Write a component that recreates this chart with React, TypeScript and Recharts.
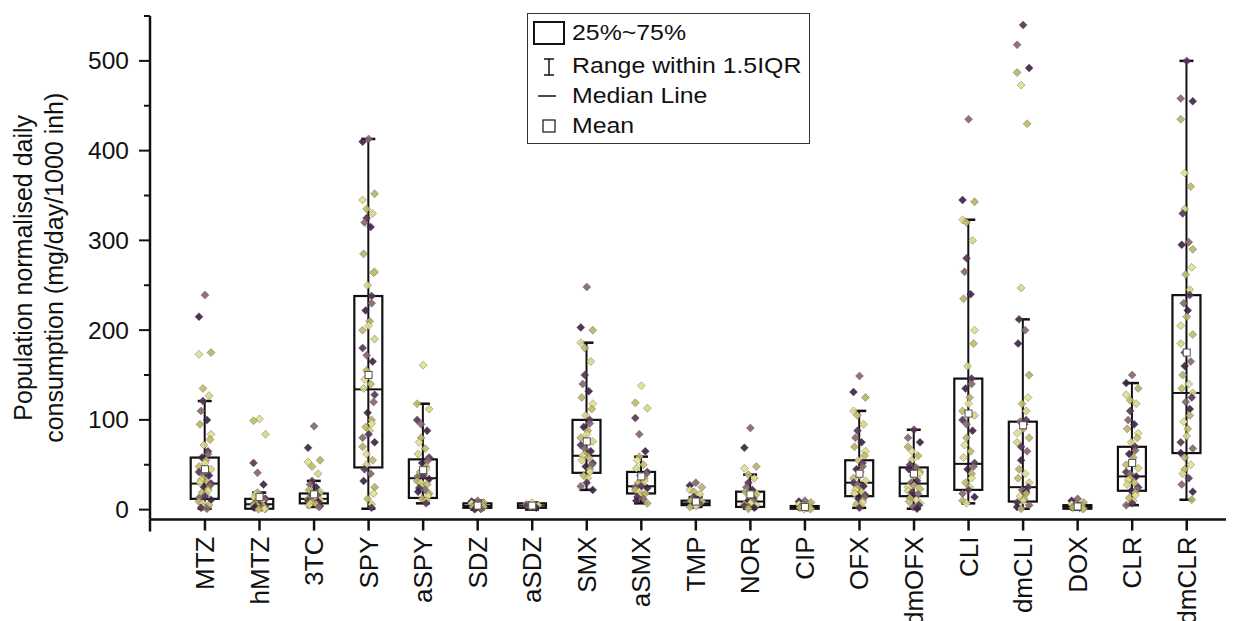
import React from 'react';
import { ComposedChart, Bar, Scatter, XAxis, YAxis, Legend } from 'recharts';

const categories = ['MTZ', 'hMTZ', '3TC', 'SPY', 'aSPY', 'SDZ', 'aSDZ', 'SMX', 'aSMX', 'TMP', 'NOR', 'CIP', 'OFX', 'dmOFX', 'CLI', 'dmCLI', 'DOX', 'CLR', 'dmCLR'];
const q1Values = [12, 1, 7, 47, 13, 2, 2, 41, 18, 5, 3, 1, 15, 15, 22, 9, 1, 21, 63];
const medianValues = [29, 6, 12, 134, 35, 4, 4.5, 60, 26, 7, 9, 2.5, 30, 29, 51, 25, 3, 37, 130];
const q3Values = [58, 12, 18, 238, 56, 7, 7, 100, 42, 10, 20, 4, 55, 47, 146, 98, 5, 70, 239];
const whiskerLow = [1, 0.5, 3, 1, 7, 0, 0, 22, 7, 3, 1, 0, 2, 1, 7, 1, 0, 5, 11];
const whiskerHigh = [121, 19, 32, 413, 118, 10, 8, 186, 59, 14, 39, 6, 110, 89, 323, 212, 7, 141, 500];
const meanValues = [45, 14, 17, 150, 44, 4.5, 4.5, 76, 37, 9, 17, 3, 40, 40, 107, 94, 3.5, 52, 175];

const yMajorTicks = [0, 100, 200, 300, 400, 500];
const yMinorTicks = [50, 150, 250, 350, 450, 550];
const Y_MIN = -11;
const Y_MAX = 550;

const ptsMTZ = [239, 215, 175, 173, 135, 127, 121, 110, 100, 95, 84, 78, 72, 65, 62, 58, 55, 52, 48, 45, 42, 40, 38, 35, 33, 31, 30, 29, 27, 25, 23, 21, 19, 17, 15, 13, 11, 9, 7, 5, 3, 2, 1];
const ptsHMTZ = [101, 99, 84, 52, 41, 28, 19, 17, 15, 13, 12, 11, 10, 9, 8, 8, 7, 6, 6, 5, 5, 4, 4, 3, 3, 2, 2, 1, 1, 0.5];
const pts3TC = [93, 69, 55, 53, 48, 40, 32, 28, 25, 22, 20, 18, 17, 16, 15, 14, 13, 12, 12, 11, 10, 9, 9, 8, 7, 6, 5, 4, 3];
const ptsSPY = [413, 410, 352, 345, 335, 330, 325, 320, 315, 285, 265, 264, 250, 238, 230, 222, 210, 205, 200, 190, 180, 172, 165, 155, 145, 140, 135, 128, 120, 108, 100, 96, 92, 88, 84, 80, 75, 70, 62, 55, 50, 45, 40, 32, 25, 18, 12, 6, 2];
const ptsASPY = [161, 118, 112, 100, 95, 88, 80, 75, 68, 62, 58, 55, 52, 48, 45, 42, 40, 38, 36, 34, 32, 30, 28, 26, 24, 22, 20, 18, 15, 12, 10, 7];
const ptsSDZ = [10, 9, 8, 7, 6, 5, 5, 4, 4, 3, 3, 2, 2, 1, 1, 0.5];
const ptsASDZ = [8, 6, 5, 4, 3, 2];
const ptsSMX = [248, 203, 200, 186, 180, 165, 150, 140, 132, 125, 118, 112, 105, 100, 96, 92, 88, 84, 80, 76, 72, 68, 65, 62, 60, 58, 55, 52, 50, 48, 45, 42, 38, 35, 30, 26, 22];
const ptsASMX = [138, 119, 113, 102, 84, 65, 59, 55, 50, 46, 42, 40, 38, 35, 32, 30, 28, 26, 25, 24, 22, 20, 18, 16, 14, 12, 10, 7];
const ptsTMP = [30, 27, 25, 22, 20, 17, 14, 12, 11, 10, 9, 8, 7, 7, 6, 5, 5, 4, 3];
const ptsNOR = [91, 69, 48, 46, 39, 35, 30, 25, 22, 20, 18, 16, 14, 12, 10, 9, 8, 7, 6, 5, 4, 3, 2, 1];
const ptsCIP = [10, 9, 8, 6, 5, 4, 3, 3, 2, 2, 1, 1, 0.5];
const ptsOFX = [149, 131, 125, 110, 105, 95, 88, 80, 75, 70, 65, 60, 55, 52, 48, 45, 42, 38, 35, 32, 30, 28, 26, 24, 22, 20, 18, 16, 14, 12, 10, 8, 6, 4, 2];
const ptsDMOFX = [89, 80, 75, 70, 65, 60, 55, 50, 47, 45, 42, 40, 38, 35, 32, 30, 29, 27, 25, 23, 21, 19, 17, 15, 13, 11, 9, 7, 5, 3, 1];
const ptsCLI = [435, 345, 343, 323, 320, 300, 280, 265, 240, 235, 200, 185, 160, 146, 140, 135, 125, 118, 110, 105, 100, 95, 88, 80, 72, 65, 58, 52, 48, 45, 40, 35, 30, 25, 22, 18, 14, 10, 7];
const ptsDMCLI = [540, 518, 492, 487, 473, 430, 247, 212, 200, 185, 150, 125, 118, 110, 100, 98, 95, 90, 85, 80, 75, 70, 65, 55, 45, 40, 35, 30, 25, 22, 20, 18, 15, 12, 10, 8, 5, 3, 1];
const ptsDOX = [12, 10, 8, 6, 5, 4, 3, 3, 2, 2, 1, 1];
const ptsCLR = [150, 141, 135, 128, 122, 118, 110, 100, 95, 90, 85, 80, 75, 70, 66, 62, 58, 54, 50, 46, 42, 40, 37, 35, 33, 30, 28, 25, 23, 21, 19, 16, 13, 10, 7, 5];
const ptsDMCLR = [500, 458, 455, 435, 375, 360, 335, 330, 298, 295, 290, 270, 262, 245, 239, 230, 222, 215, 205, 195, 185, 175, 165, 160, 150, 140, 135, 130, 125, 120, 112, 105, 98, 90, 82, 75, 68, 63, 58, 50, 45, 40, 35, 28, 20, 11];

const pointSets = [ptsMTZ, ptsHMTZ, pts3TC, ptsSPY, ptsASPY, ptsSDZ, ptsASDZ, ptsSMX, ptsASMX, ptsTMP, ptsNOR, ptsCIP, ptsOFX, ptsDMOFX, ptsCLI, ptsDMCLI, ptsDOX, ptsCLR, ptsDMCLR];

const boxData = categories.map((name, k) => ({
  name,
  q1: q1Values[k],
  median: medianValues[k],
  q3: q3Values[k],
  wLow: whiskerLow[k],
  wHigh: whiskerHigh[k],
  mean: meanValues[k],
}));

const pointData = categories.flatMap((name, k) => pointSets[k].map((v, i) => ({ name, v, i })));

const FONT = "'Liberation Sans', Arial, Helvetica, sans-serif";
const INK = '#111111';
const PALETTE = ['#d9d882', '#3e2446', '#c0be66', '#87686d', '#e2e18e', '#583858', '#b9b46a'];
const JITTER = [0, -4, 3, -2, 5, -6, 2, -3, 4, -1, 6, -5, 1, -2, 3, -6, 6];

const BoxShape = (props: any) => {
  const { x, y, width, height, payload } = props;
  if (!payload || x == null || y == null) return null;
  const top = Math.min(y, y + height);
  const h = Math.abs(height);
  const lo = payload.wLow;
  const hi = payload.wHigh;
  const toPx = (val: number) => top + ((hi - val) / (hi - lo)) * h;
  const cx = x + width / 2;
  const capHalf = 7;
  const yQ3 = toPx(payload.q3);
  const yQ1 = toPx(payload.q1);
  const yMed = toPx(payload.median);
  return (
    <g>
      <line x1={cx} x2={cx} y1={top} y2={top + h} stroke={INK} strokeWidth={2} />
      <line x1={cx - capHalf} x2={cx + capHalf} y1={top} y2={top} stroke={INK} strokeWidth={2.5} />
      <line x1={cx - capHalf} x2={cx + capHalf} y1={top + h} y2={top + h} stroke={INK} strokeWidth={2.5} />
      <rect x={x} y={yQ3} width={width} height={Math.max(yQ1 - yQ3, 0)} fill="none" stroke={INK} strokeWidth={2.2} />
      <line x1={x} x2={x + width} y1={yMed} y2={yMed} stroke={INK} strokeWidth={2} />
    </g>
  );
};

const PointShape = (props: any) => {
  const { cx, cy, payload } = props;
  if (cx == null || cy == null || !payload) return null;
  const i = payload.i;
  const dx = JITTER[(i * 5) % JITTER.length];
  const color = PALETTE[(i * 5 + payload.name.length) % PALETTE.length];
  const r = 4;
  const px = cx + dx;
  return (
    <path
      d={`M${px},${cy - r}L${px + r},${cy}L${px},${cy + r}L${px - r},${cy}Z`}
      fill={color}
      fillOpacity={0.92}
      stroke="rgba(60,45,55,0.45)"
      strokeWidth={0.7}
    />
  );
};

const MeanShape = (props: any) => {
  const { cx, cy } = props;
  if (cx == null || cy == null) return null;
  const s = 7;
  return <rect x={cx - s / 2} y={cy - s / 2} width={s} height={s} fill="#fff" stroke="#555" strokeWidth={1} />;
};

const YTick = (props: any) => {
  const { x, y, payload } = props;
  const v = payload.value;
  if (v === Y_MIN) {
    return <line x1={x} x2={x} y1={y} y2={y + 12} stroke={INK} strokeWidth={2.5} />;
  }
  const major = yMajorTicks.includes(v);
  return (
    <g>
      <line x1={x - (major ? 11 : 6)} x2={x} y1={y} y2={y} stroke={INK} strokeWidth={2} />
      {major && (
        <text x={x - 21} y={y} textAnchor="end" dominantBaseline="central" fontSize={24.5} fontFamily={FONT} fill={INK}>
          {v}
        </text>
      )}
    </g>
  );
};

const XTick = (props: any) => {
  const { x, y, payload } = props;
  return (
    <text
      x={x}
      y={y}
      transform={`rotate(-90, ${x}, ${y})`}
      textAnchor="end"
      dominantBaseline="central"
      fontSize={26}
      fontFamily={FONT}
      fill={INK}
    >
      {payload.value}
    </text>
  );
};

const YTitle = (props: any) => {
  const vb = props.viewBox || { x: 0, y: 0, width: 0, height: 0 };
  const cy = vb.y + vb.height / 2;
  const x1 = vb.x + 24;
  const x2 = vb.x + 55;
  return (
    <g>
      <text x={x1} y={cy} transform={`rotate(-90, ${x1}, ${cy})`} textAnchor="middle" fontSize={25} fontFamily={FONT} fill={INK}>
        Population normalised daily
      </text>
      <text x={x2} y={cy} transform={`rotate(-90, ${x2}, ${cy})`} textAnchor="middle" fontSize={25} fontFamily={FONT} fill={INK}>
        consumption (mg/day/1000 inh)
      </text>
    </g>
  );
};

const legendItems = ['25%~75%', 'Range within 1.5IQR', 'Median Line', 'Mean'];

const LegendContent = () => {
  const rowTops = [19, 52, 82, 112];
  return (
    <div
      style={{
        position: 'relative',
        width: 283,
        height: 131,
        border: '1.5px solid #333',
        boxSizing: 'border-box',
        background: '#fff',
        fontFamily: FONT,
        color: INK,
      }}
    >
      <svg width={283} height={131} style={{ position: 'absolute', left: 0, top: 0 }}>
        <rect x={6} y={8} width={30} height={22} fill="none" stroke={INK} strokeWidth={2} />
        <line x1={21} x2={21} y1={45} y2={61} stroke={INK} strokeWidth={1.5} />
        <line x1={16} x2={26} y1={45} y2={45} stroke={INK} strokeWidth={1.5} />
        <line x1={16} x2={26} y1={61} y2={61} stroke={INK} strokeWidth={1.5} />
        <line x1={10} x2={28} y1={82} y2={82} stroke={INK} strokeWidth={1.5} />
        <rect x={15} y={106} width={12} height={12} fill="none" stroke={INK} strokeWidth={1.2} />
      </svg>
      {legendItems.map((t, k) => (
        <div
          key={t}
          style={{
            position: 'absolute',
            left: 44,
            top: rowTops[k] - 14,
            height: 28,
            lineHeight: '28px',
            fontSize: 22,
            whiteSpace: 'nowrap',
            transform: 'scaleX(1.13)',
            transformOrigin: 'left center',
          }}
        >
          {t}
        </div>
      ))}
    </div>
  );
};

export default function App() {
  return (
    <div style={{ width: 1226, height: 613, fontFamily: FONT, position: 'relative' }}>
      <ComposedChart width={1226} height={613} data={boxData} margin={{ top: 8, right: 0, bottom: 0, left: 0 }}>
        <XAxis
          dataKey="name"
          type="category"
          allowDuplicatedCategory={false}
          height={101.5}
          padding={{ left: 27.7, right: 20 }}
          interval={0}
          axisLine={{ stroke: INK, strokeWidth: 2.5 }}
          tickLine={{ stroke: INK, strokeWidth: 2.5 }}
          tickSize={11}
          tickMargin={6}
          tick={<XTick />}
        />
        <YAxis
          type="number"
          domain={[Y_MIN, Y_MAX]}
          ticks={[Y_MIN, 0, ...yMinorTicks.slice(0, 1), 100, 150, 200, 250, 300, 350, 400, 450, 500, 550]}
          interval={0}
          width={142}
          axisLine={{ stroke: INK, strokeWidth: 2.5 }}
          tickLine={false}
          tickSize={0}
          tickMargin={0}
          tick={<YTick />}
          label={<YTitle />}
        />
        <Legend
          layout="horizontal"
          verticalAlign="middle"
          align="center"
          wrapperStyle={{ left: 519, top: 5, width: 283, height: 131 }}
          content={<LegendContent />}
        />
        <Bar
          dataKey={(d: any) => [d.wLow, d.wHigh]}
          barSize={28}
          shape={<BoxShape />}
          isAnimationActive={false}
        />
        <Scatter data={pointData} dataKey="v" shape={<PointShape />} isAnimationActive={false} />
        <Scatter dataKey="mean" shape={<MeanShape />} isAnimationActive={false} />
      </ComposedChart>
    </div>
  );
}
